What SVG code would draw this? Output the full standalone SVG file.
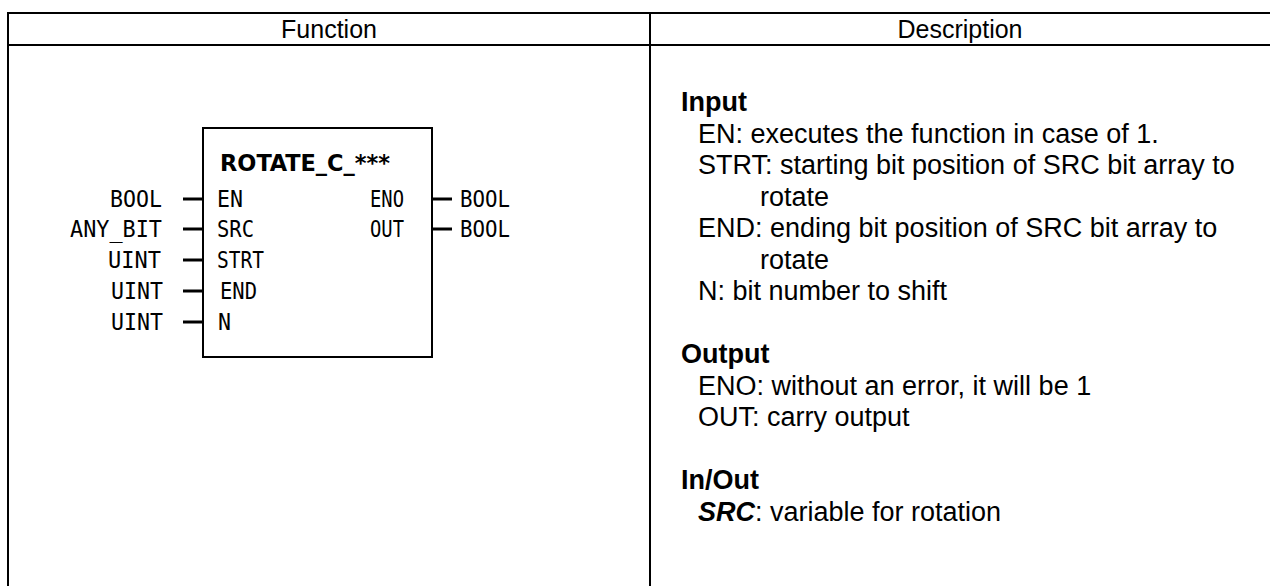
<svg xmlns="http://www.w3.org/2000/svg" width="1270" height="586" viewBox="0 0 1270 586">
<style>
.hdr{font-family:"Liberation Sans",Arial,sans-serif;font-size:25px;fill:#000}
.d{font-family:"Liberation Sans",Arial,sans-serif;font-size:27px;fill:#000}
.db{font-family:"Liberation Sans",Arial,sans-serif;font-size:27px;font-weight:bold;fill:#000}
.fb{font-family:"DejaVu Sans Mono","Liberation Mono",monospace;font-size:23px;fill:#000}
.fbt{font-family:"DejaVu Sans Condensed","Liberation Sans",sans-serif;font-size:23px;font-weight:bold;fill:#000}
.ln{stroke:#000;stroke-width:2;fill:none}
.pin{stroke:#000;stroke-width:3;fill:none}
</style>
<rect width="1270" height="586" fill="#fff"/>
<g id="table">
<line class="ln" x1="8" y1="13" x2="1270" y2="13"/>
<line class="ln" x1="8" y1="45" x2="1270" y2="45"/>
<line class="ln" x1="8" y1="12" x2="8" y2="586"/>
<line class="ln" x1="650" y1="12" x2="650" y2="586"/>
<text class="hdr" x="329" y="38" text-anchor="middle">Function</text>
<text class="hdr" x="960" y="38" text-anchor="middle">Description</text>
</g>
<g id="block">
<rect class="ln" x="203" y="128" width="229" height="229"/>
<text class="fbt" x="220" y="171" textLength="170" lengthAdjust="spacingAndGlyphs">ROTATE_C_***</text>
<text class="fb" x="217" y="207" textLength="26" lengthAdjust="spacingAndGlyphs">EN</text>
<text class="fb" x="217" y="237" textLength="37" lengthAdjust="spacingAndGlyphs">SRC</text>
<text class="fb" x="217" y="268" textLength="47" lengthAdjust="spacingAndGlyphs">STRT</text>
<text class="fb" x="220" y="299" textLength="37" lengthAdjust="spacingAndGlyphs">END</text>
<text class="fb" x="218" y="330" textLength="13" lengthAdjust="spacingAndGlyphs">N</text>
<text class="fb" x="370" y="207" textLength="34" lengthAdjust="spacingAndGlyphs">ENO</text>
<text class="fb" x="370" y="237" textLength="34" lengthAdjust="spacingAndGlyphs">OUT</text>
</g>
<g id="types">
<text class="fb" x="110" y="207" textLength="52" lengthAdjust="spacingAndGlyphs">BOOL</text>
<text class="fb" x="70" y="237" textLength="92" lengthAdjust="spacingAndGlyphs">ANY_BIT</text>
<text class="fb" x="108" y="268" textLength="53" lengthAdjust="spacingAndGlyphs">UINT</text>
<text class="fb" x="111" y="299" textLength="52" lengthAdjust="spacingAndGlyphs">UINT</text>
<text class="fb" x="111" y="330" textLength="52" lengthAdjust="spacingAndGlyphs">UINT</text>
<text class="fb" x="460" y="207" textLength="50" lengthAdjust="spacingAndGlyphs">BOOL</text>
<text class="fb" x="460" y="237" textLength="50" lengthAdjust="spacingAndGlyphs">BOOL</text>
</g>
<g id="connectors">
<line class="pin" x1="183" y1="199" x2="203" y2="199"/>
<line class="pin" x1="183" y1="229" x2="203" y2="229"/>
<line class="pin" x1="183" y1="260" x2="203" y2="260"/>
<line class="pin" x1="183" y1="291" x2="203" y2="291"/>
<line class="pin" x1="183" y1="322" x2="203" y2="322"/>
<line class="pin" x1="432" y1="199" x2="452" y2="199"/>
<line class="pin" x1="432" y1="229" x2="452" y2="229"/>
</g>
<g id="description">
<text class="db" x="681" y="111">Input</text>
<text class="d" x="698" y="142.5">EN: executes the function in case of 1.</text>
<text class="d" x="698" y="174">STRT: starting bit position of SRC bit array to</text>
<text class="d" x="760" y="205.5">rotate</text>
<text class="d" x="698" y="237">END: ending bit position of SRC bit array to</text>
<text class="d" x="760" y="268.5">rotate</text>
<text class="d" x="698" y="300">N: bit number to shift</text>
<text class="db" x="681" y="363">Output</text>
<text class="d" x="698" y="394.5">ENO: without an error, it will be 1</text>
<text class="d" x="698" y="426">OUT: carry output</text>
<text class="db" x="681" y="489">In/Out</text>
<text class="d" x="698" y="521"><tspan font-weight="bold" font-style="italic">SRC</tspan>: variable for rotation</text>
</g>
</svg>
